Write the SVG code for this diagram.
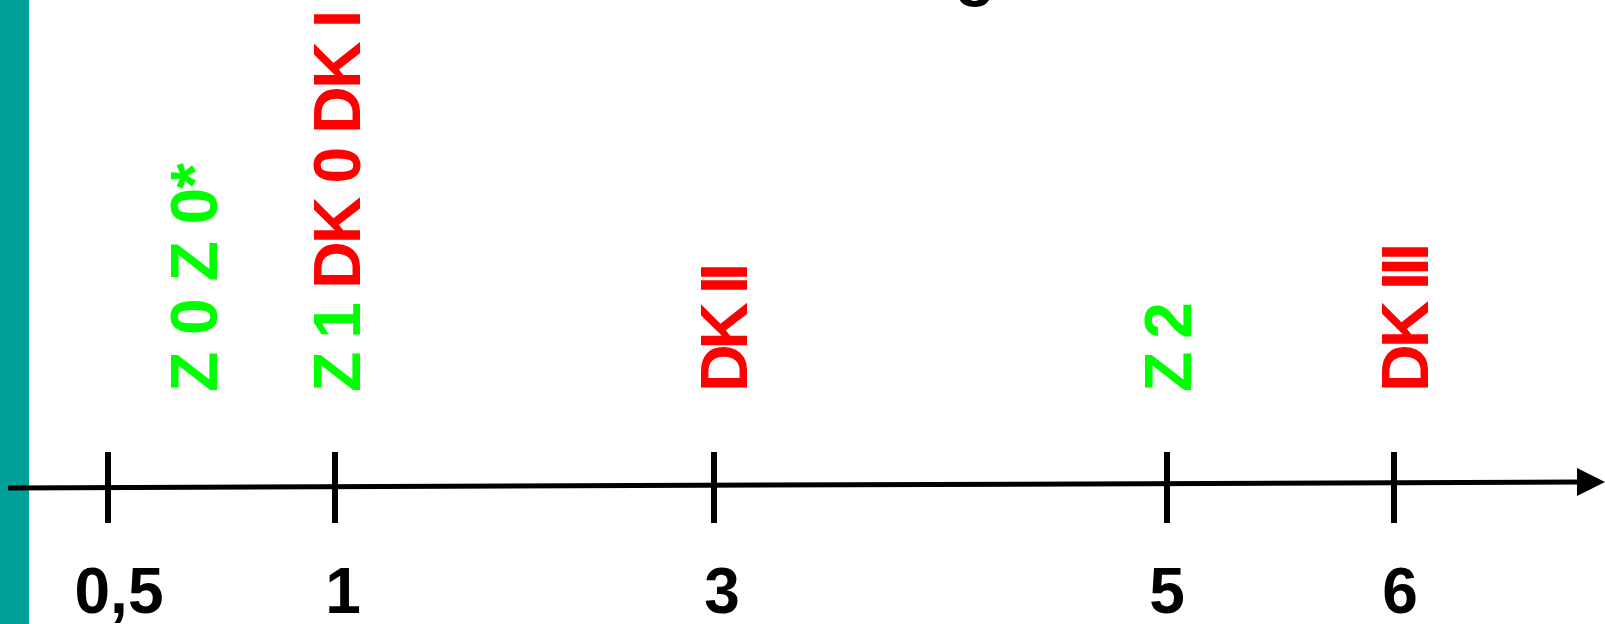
<svg xmlns="http://www.w3.org/2000/svg" width="1605" height="624" viewBox="0 0 1605 624">
  <style>
    .lbl { font-family: "Liberation Sans", Arial, sans-serif; font-weight: bold; font-size: 66px; }
    .num { font-family: "Liberation Sans", Arial, sans-serif; font-weight: bold; font-size: 64px; fill: #000; text-anchor: middle; }
    .g { fill: #00ff00; }
    .r { fill: #ff0000; }
    .tick { stroke: #000; stroke-width: 6; }
    .axis { stroke: #000; stroke-width: 5; fill: none; }
  </style>
  <rect width="1605" height="624" fill="#ffffff"/>
  <g id="sidebar"><rect x="0" y="0" width="29" height="624" fill="#00a099"/></g>
  <g id="title-fragment"><text class="lbl" x="955" y="-7" fill="#000">g</text></g>

  <g id="connectors">
    <line class="axis" x1="8" y1="488" x2="1580" y2="482"/>
    <polygon points="1577,468 1605,482 1577,496" fill="#000"/>
  </g>

  <g id="tick-05">
    <line class="tick" x1="108" y1="452" x2="108" y2="523"/>
    <text class="num" x="119" y="613">0,5</text>
    <text class="lbl g" transform="translate(217,392) rotate(-90)" textLength="229" lengthAdjust="spacing">Z 0 Z 0*</text>
  </g>
  <g id="tick-1">
    <line class="tick" x1="335" y1="452" x2="335" y2="523"/>
    <text class="num" x="343" y="613">1</text>
    <text class="lbl" transform="translate(360,392) rotate(-90)" textLength="382" lengthAdjust="spacing"><tspan class="g">Z 1 </tspan><tspan class="r">DK 0 DK I</tspan></text>
  </g>
  <g id="tick-3">
    <line class="tick" x1="714" y1="452" x2="714" y2="523"/>
    <text class="num" x="722" y="613">3</text>
    <text class="lbl r" transform="translate(747,392) rotate(-90)" textLength="129" lengthAdjust="spacing">DK II</text>
  </g>
  <g id="tick-5">
    <line class="tick" x1="1167" y1="452" x2="1167" y2="523"/>
    <text class="num" x="1167" y="613">5</text>
    <text class="lbl g" transform="translate(1191,392) rotate(-90)" textLength="90" lengthAdjust="spacing">Z 2</text>
  </g>
  <g id="tick-6">
    <line class="tick" x1="1394" y1="452" x2="1394" y2="523"/>
    <text class="num" x="1400" y="613">6</text>
    <text class="lbl r" transform="translate(1428,392) rotate(-90)" textLength="149" lengthAdjust="spacing">DK III</text>
  </g>
</svg>
